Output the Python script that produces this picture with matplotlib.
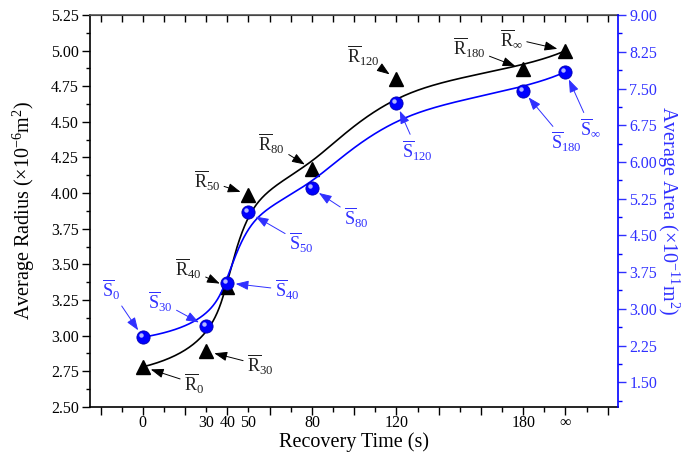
import numpy as np
import matplotlib
matplotlib.use("Agg")
import matplotlib.pyplot as plt
from matplotlib.ticker import MultipleLocator, FixedLocator, FuncFormatter
from matplotlib.transforms import offset_copy

plt.rcParams['font.family'] = ['Liberation Serif', 'DejaVu Serif']
plt.rcParams['mathtext.fontset'] = 'custom'
plt.rcParams['mathtext.rm'] = 'Liberation Serif'
plt.rcParams['mathtext.it'] = 'Liberation Serif:italic'
plt.rcParams['mathtext.bf'] = 'Liberation Serif:bold'

# data (infinity drawn at position 200)
time_pos = [0, 30, 40, 50, 80, 120, 180, 200]
time_labels = ['0', '30', '40', '50', '80', '120', '180', '∞']
subs = ['0', '30', '40', '50', '80', '120', '180', r'\infty']
radius = [2.78, 2.89, 3.34, 3.99, 4.17, 4.80, 4.87, 5.00]
area = [2.42, 2.64, 3.53, 4.97, 5.46, 7.20, 7.45, 7.84]

# label offsets (points) for the annotations
r_off = [(37, -12), (39, -10), (-28, 13), (-30, 10), (-29, 18), (-24, 17), (-39, 15), (-39, 9)]
s_off = [(-23, 34), (-33, 18), (43, -5), (38, -22), (32, -21), (15, -34), (31, -37), (18, -40)]

BLUE = '#0000ff'


def bspline(px, py, n=500, k=3):
    # clamped uniform B-spline with the points as control points
    px = np.asarray(px, float)
    py = np.asarray(py, float)
    m = len(px)
    knots = np.concatenate([np.zeros(k), np.arange(0, m - k + 1), np.full(k, m - k)]).astype(float)
    u = np.linspace(0, m - k, n)
    u[-1] -= 1e-9
    B = np.zeros((n, len(knots) - 1))
    for i in range(len(knots) - 1):
        B[:, i] = (knots[i] <= u) & (u < knots[i + 1])
    for d in range(1, k + 1):
        Bn = np.zeros((n, len(knots) - 1 - d))
        for i in range(len(knots) - 1 - d):
            a = knots[i + d] - knots[i]
            b = knots[i + d + 1] - knots[i + 1]
            t1 = (u - knots[i]) / a * B[:, i] if a > 0 else 0
            t2 = (knots[i + d + 1] - u) / b * B[:, i + 1] if b > 0 else 0
            Bn[:, i] = t1 + t2
        B = Bn
    return B @ px, B @ py


fig = plt.figure(figsize=(6.87, 4.57), dpi=100)
ax = fig.add_axes([0.131, 0.110, 0.769, 0.857])
ax2 = ax.twinx()

# radius (left axis)
cx, cy = bspline(time_pos, radius)
ax.plot(cx, cy, color='k', lw=1.2, zorder=2)
ax.plot(time_pos, radius, ls='none', marker='^', ms=10, color='k', zorder=3)

# area (right axis)
sx, sy = bspline(time_pos, area)
ax2.plot(sx, sy, color=BLUE, lw=1.2, zorder=2)
ax2.plot(time_pos, area, ls='none', marker='o', ms=9.5, color=BLUE, mec='#0000b0', mew=0.6, zorder=3)
hl = offset_copy(ax2.transData, fig=fig, x=-1.6, y=1.6, units='points')
ax2.plot(time_pos, area, ls='none', marker='o', ms=3.2, color='#c8ccff', mew=0, alpha=0.9,
         transform=hl, zorder=4)

arrow = '-|>,head_length=0.6,head_width=0.22'
for t, r, s, off in zip(time_pos, radius, subs, r_off):
    ax.annotate(r'$\overline{\mathrm{R}}_{%s}$' % s, xy=(t, r), xytext=off, textcoords='offset points',
                ha='center', va='center', fontsize=13, color='#202020',
                arrowprops=dict(arrowstyle=arrow, color='k', lw=0.7, shrinkA=1, shrinkB=6))
for t, a, s, off in zip(time_pos, area, subs, s_off):
    ax2.annotate(r'$\overline{\mathrm{S}}_{%s}$' % s, xy=(t, a), xytext=off, textcoords='offset points',
                 ha='center', va='center', fontsize=13, color='#3030ff',
                 arrowprops=dict(arrowstyle=arrow, color='#3030ff', lw=0.7, shrinkA=1, shrinkB=6))

# x axis
ax.set_xlim(-25, 225)
ax.xaxis.set_major_locator(MultipleLocator(20))
ax.xaxis.set_minor_locator(MultipleLocator(10))
ax.tick_params(axis='x', which='major', direction='out', length=6, width=1, labelbottom=False)
ax.tick_params(axis='x', which='minor', direction='out', length=3.3, width=1)
lab = ax.secondary_xaxis('bottom')
lab.set_xticks(time_pos, time_labels)
lab.tick_params(length=0, pad=6, labelsize=11.5)
lab.spines['bottom'].set_visible(False)
top = ax.secondary_xaxis('top')
top.xaxis.set_major_locator(MultipleLocator(10))
top.tick_params(direction='in', length=5, width=1, labeltop=False)
lab.set_xlabel('Recovery Time (s)', fontsize=14.5, labelpad=1)

# left y axis
ax.set_ylim(2.5, 5.25)
ax.yaxis.set_major_locator(MultipleLocator(0.25))
ax.yaxis.set_minor_locator(MultipleLocator(0.125))
ax.yaxis.set_major_formatter(FuncFormatter(lambda v, p: '%.2f' % v))
ax.tick_params(axis='y', which='major', direction='out', length=6, width=1, labelsize=11.5, pad=2)
ax.tick_params(axis='y', which='minor', direction='out', length=3, width=1)
ax.set_ylabel(r'Average Radius (×10$^{-6}$m$^{2}$)', fontsize=14.5, labelpad=10)

# right y axis
ax2.set_ylim(1.0, 9.0)
ax2.yaxis.set_major_locator(FixedLocator(np.arange(1.5, 9.01, 0.75)))
ax2.yaxis.set_minor_locator(FixedLocator(np.arange(1.125, 9.0, 0.75)))
ax2.yaxis.set_major_formatter(FuncFormatter(lambda v, p: '%.2f' % v))
ax2.tick_params(axis='y', which='major', direction='out', length=6, width=1, colors='#3030ff',
                labelsize=11.5, pad=2)
ax2.tick_params(axis='y', which='minor', direction='out', length=3, width=1, colors=BLUE)
ax2.spines['right'].set_color(BLUE)
ax2.spines['right'].set_linewidth(1.2)
ax2.set_ylabel(r'Average Area (×10$^{-11}$m$^{2}$)', fontsize=14.5, color='#3030ff',
               rotation=270, labelpad=17)

for sp in ['left', 'bottom', 'top']:
    ax.spines[sp].set_linewidth(1.2)
for sp in ['left', 'bottom', 'top']:
    ax2.spines[sp].set_visible(False)
ax.spines['right'].set_visible(False)
ax.spines['top'].set_color('#555555')

fig.savefig('out.png', dpi=100)
